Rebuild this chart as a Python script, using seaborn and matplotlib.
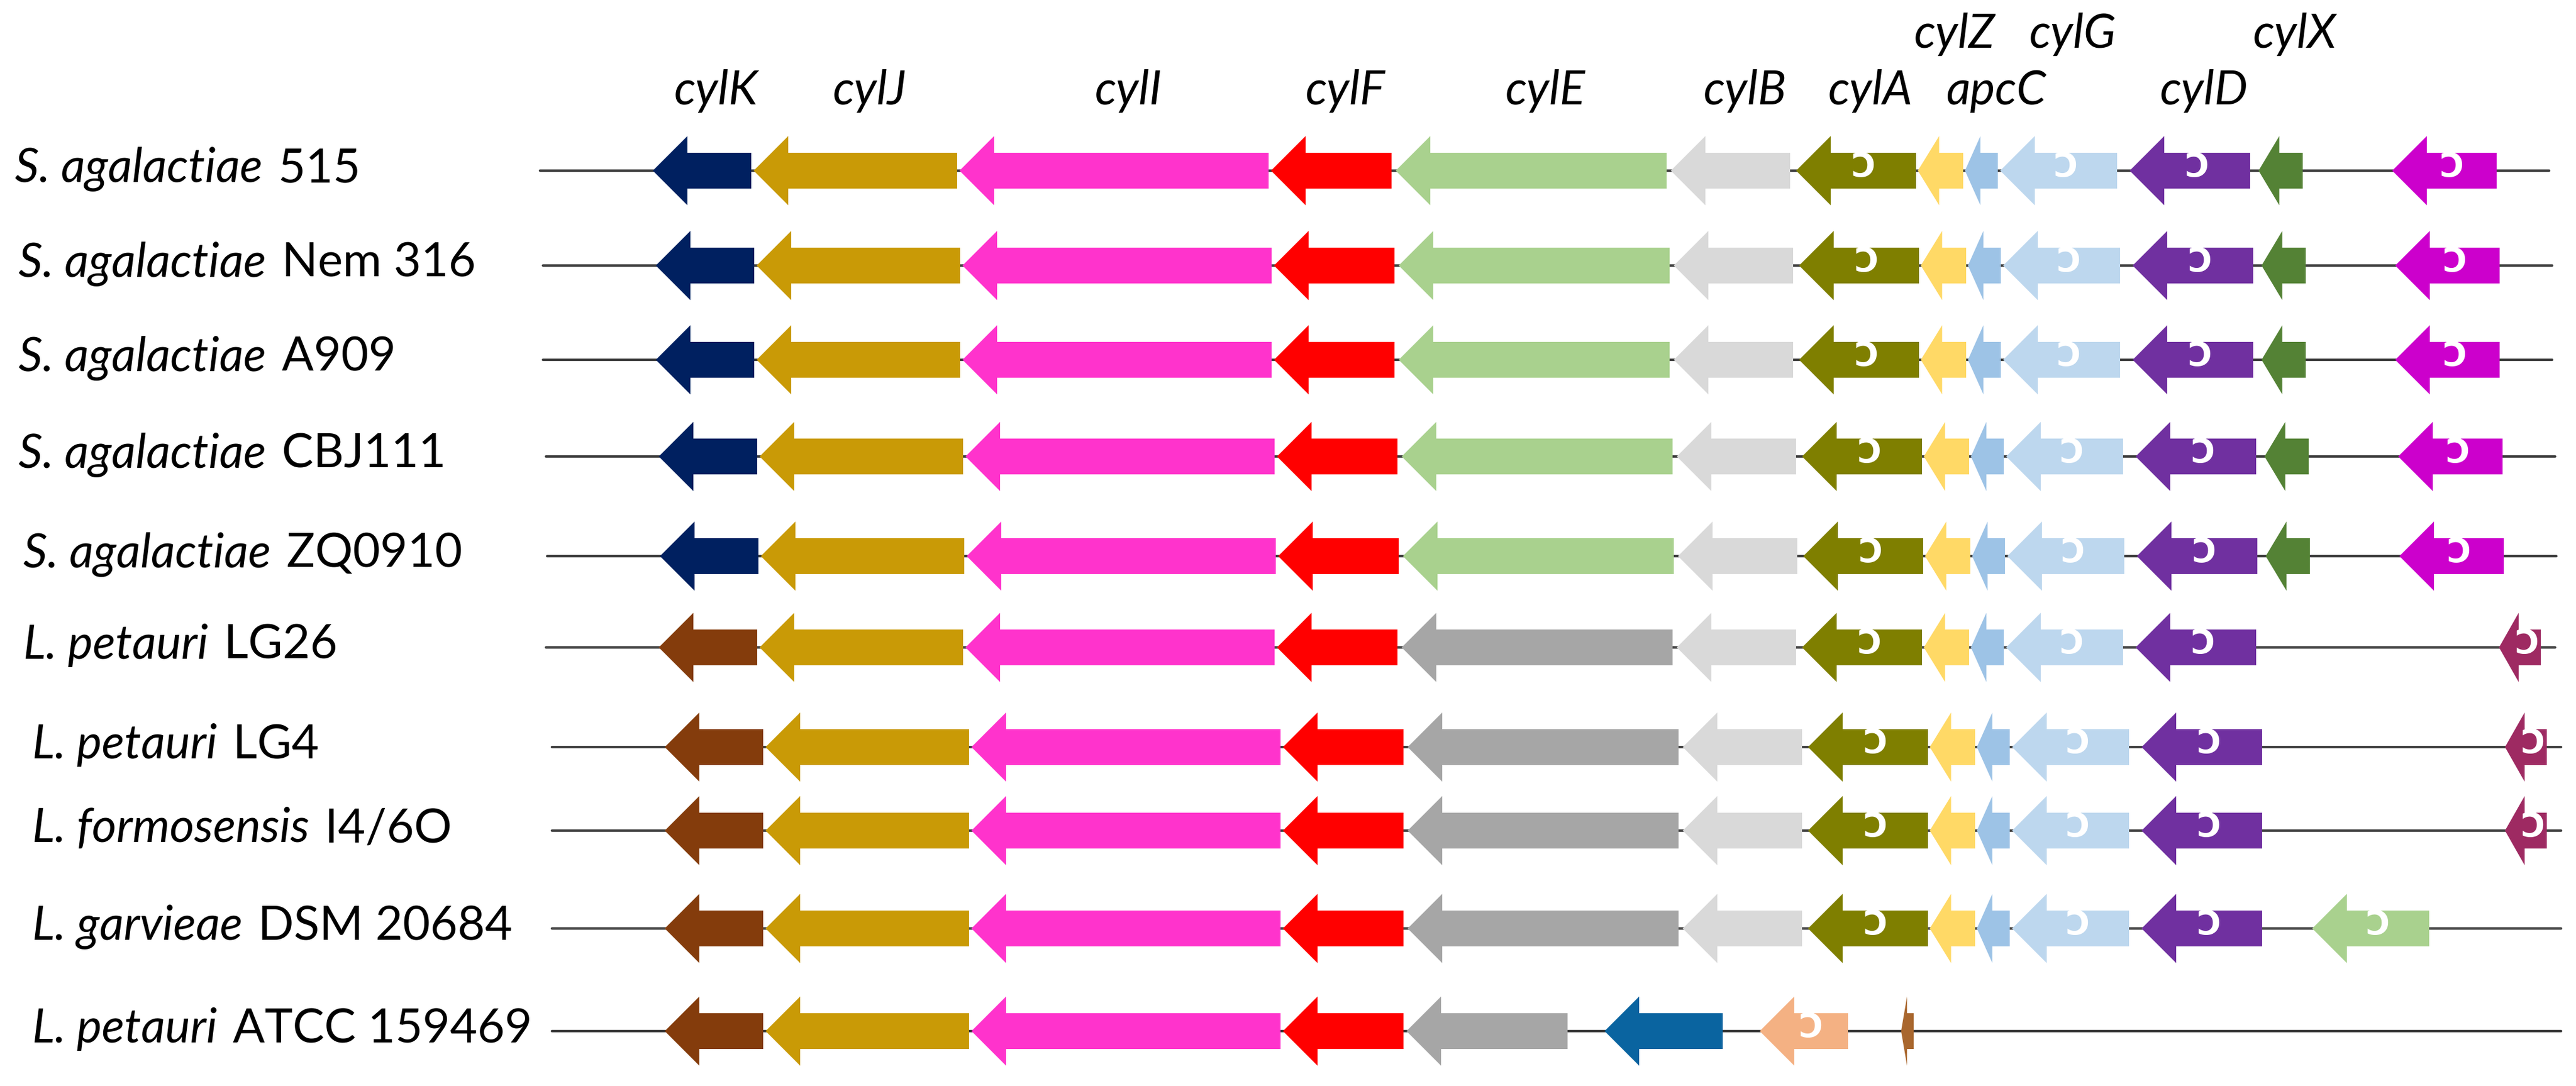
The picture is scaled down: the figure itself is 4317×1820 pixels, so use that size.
import pandas as pd
import seaborn as sns
import matplotlib.pyplot as plt
from matplotlib.patches import Polygon

# strains (species part in italics, strain id upright)
species = ['S. agalactiae', 'S. agalactiae', 'S. agalactiae', 'S. agalactiae', 'S. agalactiae',
           'L. petauri', 'L. petauri', 'L. formosensis', 'L. garvieae', 'L. petauri']
strain_ids = ['515', 'Nem 316', 'A909', 'CBJ111', 'ZQ0910',
              'LG26', 'LG4', 'I4/6O', 'DSM 20684', 'ATCC 159469']

core_genes = ['cylK', 'cylJ', 'cylI', 'cylF', 'cylE', 'cylB', 'cylA', 'cylZ', 'apcC', 'cylG', 'cylD', 'cylX']
core_start = [1094, 1263, 1608, 2130, 2339, 2800, 3010, 3214, 3293, 3352, 3569, 3785]
core_end = [1259, 1604, 2126, 2332, 2793, 3000, 3211, 3290, 3348, 3548, 3771, 3859]

# shift of each locus relative to strain 515
locus_offset = [0, 5, 5, 10, 12, 10, 20, 20, 20, 20]
locus_start = 905
locus_end = 4272

# genes present in each strain (names of core genes) + extra genes (name, start, end)
s_core = core_genes
l_core = core_genes[:-1]
present = [s_core, s_core, s_core, s_core, s_core, l_core, l_core, l_core, l_core,
           ['cylK', 'cylJ', 'cylI', 'cylF']]
extras = [
    [('mag', 4009, 4184)], [('mag', 4009, 4184)], [('mag', 4009, 4184)],
    [('mag', 4009, 4184)], [('mag', 4009, 4184)],
    [('maroon', 4178, 4248)], [('maroon', 4178, 4248)], [('maroon', 4178, 4248)],
    [('lgreen2', 3855, 4051)],
    [('grey2', 2337, 2607), ('teal', 2669, 2867), ('peach', 2929, 3077), ('tinybrown', 3166, 3187)],
]

# gene labels on top: (name, tier)
label_genes = ['cylK', 'cylJ', 'cylI', 'cylF', 'cylE', 'cylB', 'cylA', 'cylZ', 'apcC', 'cylG', 'cylD', 'cylX']
label_tier = [1, 1, 1, 1, 1, 1, 1, 0, 1, 0, 1, 0]

# colours
s_colors = {'cylK': '#002060', 'cylJ': '#C99A06', 'cylI': '#FF33CC', 'cylF': '#FF0000',
            'cylE': '#A9D18E', 'cylB': '#D9D9D9', 'cylA': '#7F7F00', 'cylZ': '#FFD966',
            'apcC': '#9DC3E6', 'cylG': '#BDD7EE', 'cylD': '#7030A0', 'cylX': '#548235',
            'mag': '#CC00CC', 'maroon': '#9E2A62', 'lgreen2': '#A9D18E', 'grey2': '#A6A6A6',
            'teal': '#0A64A0', 'peach': '#F4B183', 'tinybrown': '#A9672E'}
l_colors = dict(s_colors, cylK='#843C0C', cylE='#A6A6A6')
marked = {'cylA', 'cylG', 'cylD', 'mag', 'maroon', 'lgreen2', 'peach'}

# layout (pixel rows of the reference)
row_y = [286, 445, 603, 765, 932, 1085, 1252, 1392, 1556, 1728]
label_x = [25, 31, 31, 31, 39, 39, 54, 54, 54, 54]
tier_base = [80, 175]
body_h = 60
head_h = 116
head_len = 58
fs = 57

sns.set_theme(style='white')
plt.rcParams['font.family'] = ['Lato', 'DejaVu Sans']

fig = plt.figure(figsize=(43.17, 18.2), dpi=100)
ax = fig.add_axes([0, 0, 1, 1])
ax.set_xlim(0, 4317)
ax.set_ylim(1820, 0)

# backbone lines
line_df = pd.DataFrame({
    'strain': [s for s in range(len(species)) for _ in range(2)],
    'x': [v + locus_offset[i] for i in range(len(species)) for v in (locus_start, locus_end)],
    'y': [row_y[i] for i in range(len(species)) for _ in range(2)],
})
sns.lineplot(data=line_df, x='x', y='y', units='strain', estimator=None, sort=False,
             color='#3F3F3F', linewidth=3.0, legend=False, ax=ax, zorder=1)


def gene_arrow(x0, x1, yc, color, mark):
    L = x1 - x0
    h = min(head_len, 0.47 * L)
    pts = [(x0, yc), (x0 + h, yc - head_h / 2), (x0 + h, yc - body_h / 2), (x1, yc - body_h / 2),
           (x1, yc + body_h / 2), (x0 + h, yc + body_h / 2), (x0 + h, yc + head_h / 2)]
    ax.add_patch(Polygon(pts, closed=True, facecolor=color, edgecolor='none', zorder=2))
    if mark:
        ax.text((x0 + x1) / 2 + 12, yc - 6, '\u0186', color='white', fontsize=40,
                fontweight='bold', family='DejaVu Sans', ha='center', va='center', zorder=3)


fig.canvas.draw()
renderer = fig.canvas.get_renderer()

for i in range(len(species)):
    off = locus_offset[i]
    cols = s_colors if species[i].startswith('S.') else l_colors
    yc = row_y[i]
    for g in present[i]:
        k = core_genes.index(g)
        gene_arrow(core_start[k] + off, core_end[k] + off, yc, cols[g], g in marked)
    for g, a, b in extras[i]:
        gene_arrow(a + off, b + off, yc, cols[g], g in marked)
    t1 = ax.text(label_x[i], yc + 19, species[i], fontsize=fs, style='italic',
                 ha='left', va='baseline', color='black')
    bb = t1.get_window_extent(renderer)
    x_end = ax.transData.inverted().transform((bb.x1, bb.y0))[0]
    ax.text(x_end + 6, yc + 19, ' ' + strain_ids[i], fontsize=fs,
            ha='left', va='baseline', color='black')

for g, t in zip(label_genes, label_tier):
    k = core_genes.index(g)
    xc = (core_start[k] + core_end[k]) / 2 + 24
    ax.text(xc, tier_base[t], g, fontsize=fs, style='italic', ha='center', va='baseline', color='black')

ax.axis('off')
fig.savefig('out.png', dpi=100, facecolor='white')
